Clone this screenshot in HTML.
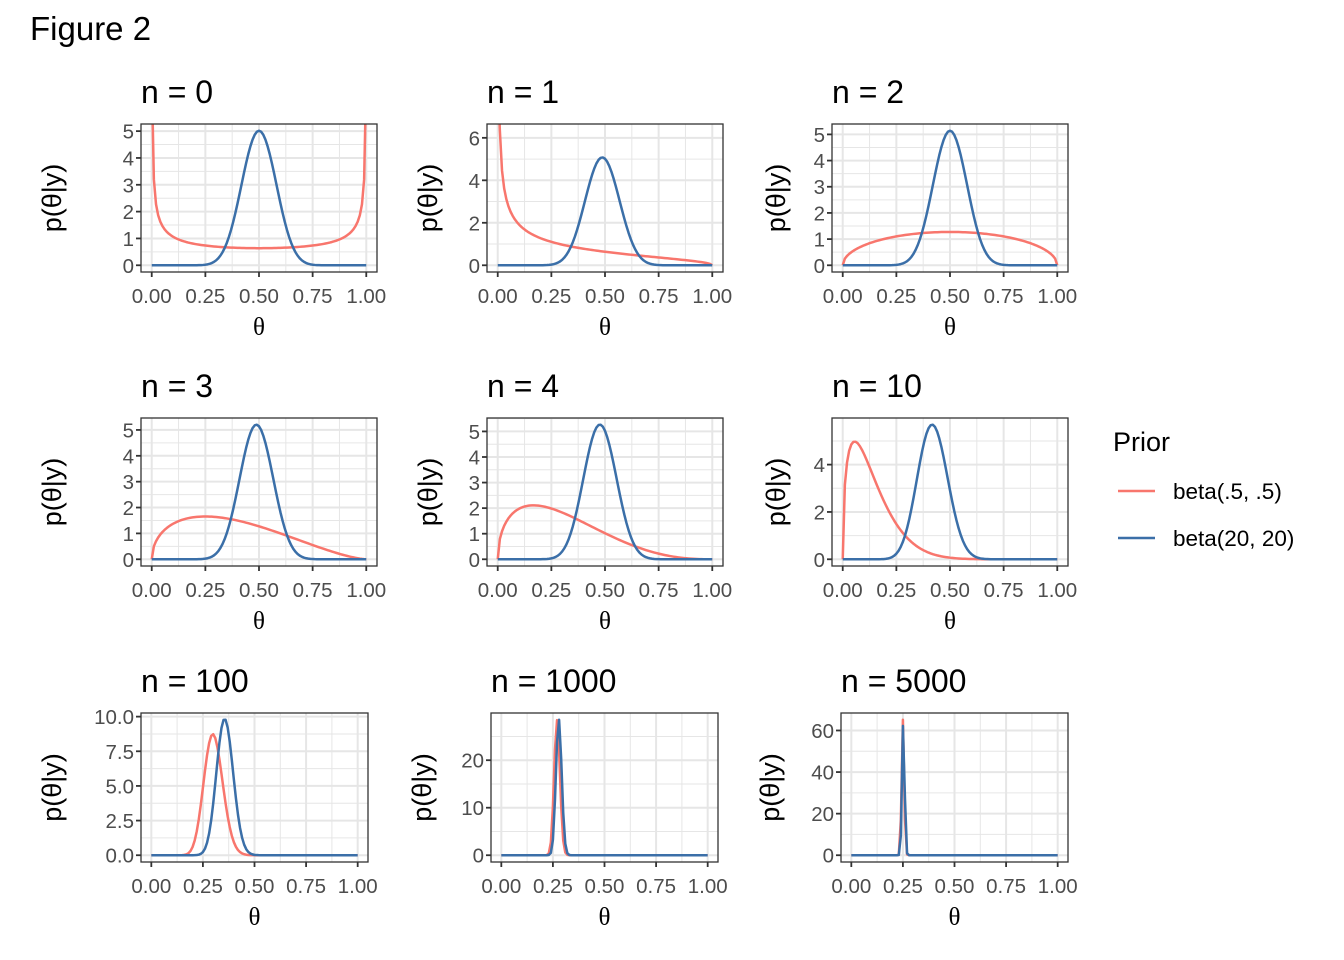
<!DOCTYPE html>
<html><head><meta charset="utf-8"><style>
body{margin:0;background:#fff;}
svg{display:block;font-family:"Liberation Sans",Arial,sans-serif;}
</style></head><body>
<svg id="s" width="1344" height="960" viewBox="0 0 1344 960" xmlns="http://www.w3.org/2000/svg">
<rect width="1344" height="960" fill="#fff"/>
<text x="30" y="40" font-size="33" fill="#000">Figure 2</text>
<text x="1113" y="451" font-size="27" fill="#000">Prior</text>
<line x1="1118" y1="491" x2="1155" y2="491" stroke="#F8766D" stroke-width="2.5"/>
<line x1="1118" y1="538" x2="1155" y2="538" stroke="#3B6FA8" stroke-width="2.5"/>
<text x="1173" y="499" font-size="22.5" fill="#000">beta(.5, .5)</text>
<text x="1173" y="546" font-size="22.5" fill="#000">beta(20, 20)</text>
</svg>
<script>
function lg(z){var g=7,c=[0.99999999999980993,676.5203681218851,-1259.1392167224028,771.32342877765313,-176.61502916214059,12.507343278686905,-0.13857109526572012,9.9843695780195716e-6,1.5056327351493116e-7];
if(z<0.5)return Math.log(Math.PI/Math.sin(Math.PI*z))-lg(1-z);z-=1;var x=c[0];for(var i=1;i<g+2;i++)x+=c[i]/(z+i);var t=z+g+0.5;return 0.5*Math.log(2*Math.PI)+(z+0.5)*Math.log(t)-t+Math.log(x);}
function db(x,a,b){if(x<=0){return a<1?Infinity:(a==1?Math.exp(lg(a+b)-lg(a)-lg(b)):0);}if(x>=1){return b<1?Infinity:(b==1?Math.exp(lg(a+b)-lg(a)-lg(b)):0);}
return Math.exp((a-1)*Math.log(x)+(b-1)*Math.log(1-x)+lg(a+b)-lg(a)-lg(b));}
var P=[
{n:0,y:0,L:141,R:377,T:124,B:272,tk:[0,1,2,3,4,5],ly:52},
{n:1,y:0,L:487,R:723,T:124,B:272,tk:[0,2,4,6],ly:428},
{n:2,y:1,L:832,R:1068,T:124,B:272,tk:[0,1,2,3,4,5],ly:776},
{n:3,y:1,L:141,R:377,T:418,B:566,tk:[0,1,2,3,4,5],ly:52},
{n:4,y:1,L:487,R:723,T:418,B:566,tk:[0,1,2,3,4,5],ly:428},
{n:10,y:1,L:832,R:1068,T:418,B:566,tk:[0,2,4],ly:776},
{n:100,y:30,L:141,R:368,T:713,B:862,tk:[0,2.5,5,7.5,10],ly:52,dec:1},
{n:1000,y:270,L:491,R:718,T:713,B:862,tk:[0,10,20],ly:422},
{n:5000,y:1250,L:841,R:1068,T:713,B:862,tk:[0,20,40,60],ly:770}];
var s=document.getElementById('s'),h='';
P.forEach(function(p,i){
 var xs=[];for(var k=0;k<=100;k++)xs.push(k/100);
 var r=xs.map(function(x){return db(x,0.5+p.y,0.5+p.n-p.y)});
 var b=xs.map(function(x){return db(x,20+p.y,20+p.n-p.y)});
 var M=0;r.concat(b).forEach(function(v){if(isFinite(v)&&v>M)M=v;});
 var y0=-0.05*M,y1=1.05*M;
 var X=function(x){return p.L+(x+0.05)/1.1*(p.R-p.L)};
 var Y=function(v){if(!isFinite(v))return p.T-50;return p.B-(v-y0)/(y1-y0)*(p.B-p.T)};
 h+='<clipPath id="c'+i+'"><rect x="'+p.L+'" y="'+p.T+'" width="'+(p.R-p.L)+'" height="'+(p.B-p.T)+'"/></clipPath>';
 var st=p.tk[1]-p.tk[0];
 for(var v=p.tk[0]-st/2;v<y1;v+=st/2){if(v<y0)continue;var major=Math.abs(Math.round(v/st)*st-v)<1e-9;
  h+='<line x1="'+p.L+'" x2="'+p.R+'" y1="'+Y(v)+'" y2="'+Y(v)+'" stroke="#e6e6e6" stroke-width="'+(major?2:1)+'"/>';}
 for(var xv=0;xv<=1.0001;xv+=0.125){var mj=Math.abs(xv*4-Math.round(xv*4))<1e-9;
  h+='<line y1="'+p.T+'" y2="'+p.B+'" x1="'+X(xv)+'" x2="'+X(xv)+'" stroke="#e6e6e6" stroke-width="'+(mj?2:1)+'"/>';}
 var pl=function(arr,col){return '<polyline clip-path="url(#c'+i+')" fill="none" stroke="'+col+'" stroke-width="2.5" stroke-linejoin="round" points="'+xs.map(function(x,k){return X(x).toFixed(2)+','+Y(arr[k]).toFixed(2)}).join(' ')+'"/>';};
 h+=pl(r,'#F8766D')+pl(b,'#3B6FA8');
 h+='<rect x="'+p.L+'" y="'+p.T+'" width="'+(p.R-p.L)+'" height="'+(p.B-p.T)+'" fill="none" stroke="#333" stroke-width="1.3"/>';
 p.tk.forEach(function(t){var yy=Y(t);h+='<line x1="'+(p.L-5)+'" x2="'+p.L+'" y1="'+yy+'" y2="'+yy+'" stroke="#333" stroke-width="1.8"/>';
  h+='<text x="'+(p.L-7)+'" y="'+(yy+7.5)+'" font-size="20.5" fill="#4d4d4d" text-anchor="end">'+(p.dec?t.toFixed(1):t)+'</text>';});
 [0,0.25,0.5,0.75,1].forEach(function(t){var xx=X(t);h+='<line y1="'+p.B+'" y2="'+(p.B+5)+'" x1="'+xx+'" x2="'+xx+'" stroke="#333" stroke-width="1.8"/>';
  h+='<text x="'+xx+'" y="'+(p.B+31)+'" font-size="20.5" fill="#4d4d4d" text-anchor="middle">'+t.toFixed(2)+'</text>';});
 h+='<text x="'+((p.L+p.R)/2)+'" y="'+(p.B+63)+'" font-size="25" font-family="Liberation Serif,serif" text-anchor="middle">θ</text>';
 var cy=(p.T+p.B)/2;
 h+='<text transform="translate('+(p.ly+9)+','+cy+') rotate(-90)" font-size="27" text-anchor="middle">p(θ|y)</text>';
 h+='<text x="'+p.L+'" y="'+(p.T-21)+'" font-size="32">n = '+p.n+'</text>';
});
s.insertAdjacentHTML('beforeend',h);
</script>
</body></html>
